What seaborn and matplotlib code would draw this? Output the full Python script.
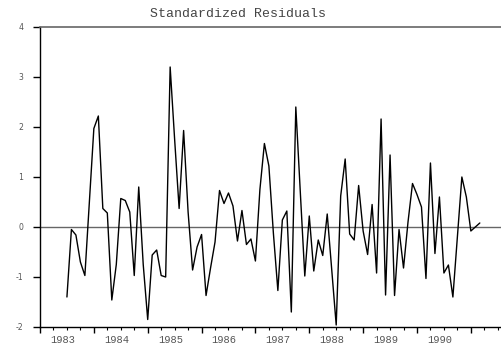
import numpy as np
import pandas as pd
import matplotlib
matplotlib.use("Agg")
import matplotlib.pyplot as plt
import matplotlib.transforms as mtransforms
import seaborn as sns

# Monthly standardized residuals, starting July 1983
start_year = 1983.5
residuals = [
    -1.40, -0.05, -0.16, -0.70, -0.97, 0.50, 1.97, 2.22, 0.37, 0.28, -1.46, -0.75,
    0.57, 0.53, 0.30, -0.97, 0.80, -0.75, -1.85, -0.56, -0.46, -0.97, -1.00, 3.20,
    1.75, 0.37, 1.93, 0.30, -0.86, -0.40, -0.15, -1.37, -0.82, -0.30, 0.73, 0.47,
    0.68, 0.42, -0.28, 0.33, -0.35, -0.24, -0.68, 0.75, 1.67, 1.22, -0.12, -1.27,
    0.14, 0.32, -1.70, 2.40, 0.70, -0.98, 0.22, -0.88, -0.26, -0.57, 0.26, -0.85,
    -1.96, 0.62, 1.36, -0.14, -0.26, 0.83, -0.08, -0.55, 0.45, -0.92, 2.16, -1.36,
    1.44, -1.37, -0.05, -0.82, 0.10, 0.87, 0.65, 0.40, -1.03, 1.28, -0.53, 0.60,
    -0.92, -0.76, -1.40, -0.20, 1.00, 0.60, -0.08, 0.00, 0.08,
]
year_labels = ["1983", "1984", "1985", "1986", "1987", "1988", "1989", "1990"]
y_ticks = [-2, -1, 0, 1, 2, 3, 4]

df = pd.DataFrame({
    "time": start_year + np.arange(len(residuals)) / 12.0,
    "resid": residuals,
})

sns.set_style("white")
mono = "Liberation Mono"
grey = "#555555"

fig = plt.figure(figsize=(5.01, 3.49), dpi=100)
ax = fig.add_axes([40 / 501, 22 / 349, 461 / 501, 300 / 349])

sns.lineplot(data=df, x="time", y="resid", ax=ax, color="black",
             linewidth=1.0, estimator=None)
ax.axhline(0, color="#666666", linewidth=1.0, zorder=0)

ax.set_xlim(1983.024, 1991.56)
ax.set_ylim(-2, 4)
ax.set_xlabel("")
ax.set_ylabel("")

# spines: left and bottom solid, top grey, no right
for side in ["left", "bottom"]:
    ax.spines[side].set_color("black")
    ax.spines[side].set_linewidth(1.0)
ax.spines["top"].set_color("#666666")
ax.spines["top"].set_linewidth(1.2)
ax.spines["right"].set_visible(False)

# y axis ticks
ax.set_yticks(y_ticks)
ax.set_yticklabels([str(v) for v in y_ticks])
ax.tick_params(axis="y", which="major", direction="out", length=5, width=1.0,
               color="black", pad=7, labelsize=5.6, labelcolor=grey, left=True)

# x axis: year ticks, quarterly minor ticks, labels placed within each year
years = np.arange(1983, 1992)
ax.set_xticks(years)
ax.set_xticklabels([])
ax.set_xticks(np.arange(1983, 1991.6, 0.25), minor=True)
ax.tick_params(axis="x", which="major", direction="out", length=4.3, width=1.0,
               color="black", bottom=True)
ax.tick_params(axis="x", which="minor", direction="out", length=2.2, width=0.8,
               color="black", bottom=True)

trans = mtransforms.blended_transform_factory(ax.transData, ax.transAxes)
for i, lab in enumerate(year_labels):
    ax.text(1983 + i + 0.42, -0.042, lab, transform=trans, ha="center",
            va="center", fontsize=7.5, family=mono, color=grey)

fig.text(238 / 501, 1 - 14 / 349, "Standardized Residuals", ha="center",
         va="center", fontsize=9.5, family=mono, color="#444444")

fig.savefig("out.png", dpi=100)
